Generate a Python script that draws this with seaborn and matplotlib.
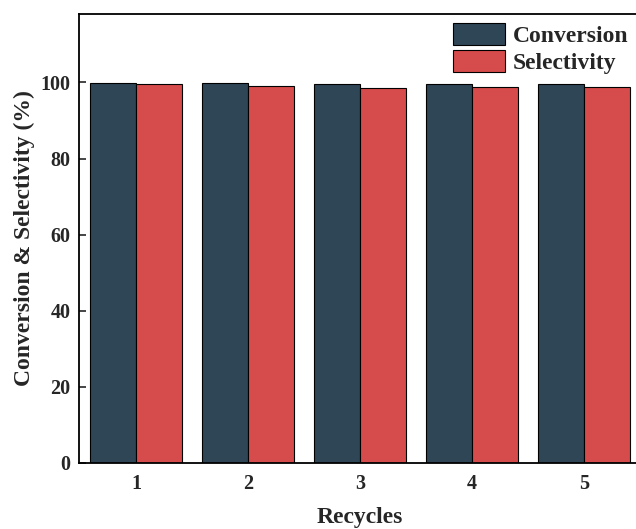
import matplotlib
matplotlib.use("Agg")
import matplotlib.pyplot as plt
import seaborn as sns
import pandas as pd

recycles = ["1", "2", "3", "4", "5"]
conversion = [99.9, 99.8, 99.5, 99.7, 99.5]
selectivity = [99.7, 99.1, 98.6, 98.8, 98.9]

df = pd.DataFrame({
    "Recycles": recycles * 2,
    "value": conversion + selectivity,
    "series": ["Conversion"] * len(recycles) + ["Selectivity"] * len(recycles),
})

sns.set_style("ticks")
plt.rcParams['font.family'] = ['Liberation Serif', 'DejaVu Serif']
plt.rcParams['font.weight'] = 'bold'

fig = plt.figure(figsize=(6.36, 5.29), dpi=100)
ax = fig.add_axes([79/636, 1-463/529, (641-79)/636, (463-14)/529])

sns.barplot(data=df, x="Recycles", y="value", hue="series",
            palette=["#2F4657", "#D64B4C"], width=0.82, ax=ax,
            edgecolor="black", linewidth=0.8, saturation=1, errorbar=None)

ax.set_xlim(-0.51, 4.51)
ax.set_ylim(0, 118)
ax.set_yticks([0, 20, 40, 60, 80, 100])
ax.tick_params(direction="in", length=5, width=1.2, labelsize=14.5, pad=6)
ax.tick_params(axis="x", pad=8)
for lab in ax.get_xticklabels() + ax.get_yticklabels():
    lab.set_fontweight("bold")
for s in ax.spines.values():
    s.set_linewidth(1.3)
    s.set_color("black")

ax.set_xlabel("Recycles", fontsize=17, fontweight="bold", labelpad=9)
ax.set_ylabel("Conversion & Selectivity (%)", fontsize=17, fontweight="bold", labelpad=4)

leg = ax.legend(loc="upper right", bbox_to_anchor=(1.003, 1.012), frameon=False,
                prop={"family": "Liberation Serif", "weight": "bold", "size": 17},
                handlelength=2.2, handleheight=1.05, labelspacing=0.14,
                handletextpad=0.35, borderaxespad=0.2)

fig.savefig("out.png", dpi=100)
